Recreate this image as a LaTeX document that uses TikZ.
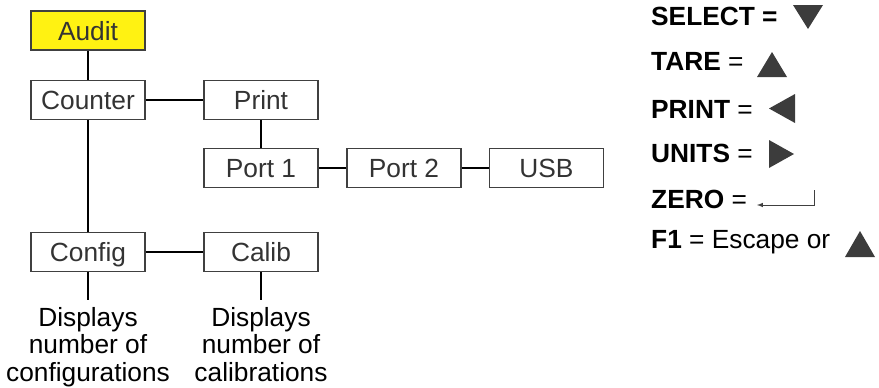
\documentclass[tikz,border=0pt]{standalone}
\usepackage{fontspec}
\setmainfont{Liberation Sans}
\definecolor{boxline}{HTML}{404040}
\definecolor{boxtext}{HTML}{333333}
\definecolor{auditfill}{HTML}{FFF212}
\definecolor{keyfill}{HTML}{3C3C3C}
\begin{document}
\begin{tikzpicture}[x=1pt,y=-1pt,
    menu/.style={draw=boxline,line width=1.3pt,fill=white,text=boxtext,
      minimum width=114pt,minimum height=39pt,inner sep=0pt,
      text height=19pt,text depth=0pt,font=\fontsize{26.3}{27.5}\selectfont},
    link/.style={line width=2pt},
    note/.style={align=center,anchor=north,inner sep=0pt,
      font=\fontsize{26.3}{27.5}\selectfont},
    keytext/.style={anchor=base west,inner sep=0pt,
      font=\fontsize{26.3}{27.5}\selectfont},
    keytri/.style={fill=keyfill,draw=none}]
  \useasboundingbox (0,0) rectangle (879,388);
  % menu tree
  \node[menu,fill=auditfill] (audit) at (88,30.5) {Audit};
  \node[menu] (counter) at (88,100) {Counter};
  \node[menu] (print) at (261,100) {Print};
  \node[menu] (port1) at (261,168) {Port 1};
  \node[menu] (port2) at (404,168) {Port 2};
  \node[menu] (usb) at (546.5,168) {USB};
  \node[menu] (config) at (88,252) {Config};
  \node[menu] (calib) at (261,252) {Calib};
  \coordinate (configend) at (88,300);
  \coordinate (calibend) at (261,300);
  \node[note] (confignote) at (88,307) {Displays\\number of\\configurations};
  \node[note] (calibnote) at (261,307) {Displays\\number of\\calibrations};
  \draw[link] (audit) -- (counter);
  \draw[link] (counter) -- (print);
  \draw[link] (print) -- (port1);
  \draw[link] (port1) -- (port2);
  \draw[link] (port2) -- (usb);
  \draw[link] (counter) -- (config);
  \draw[link] (config) -- (calib);
  \draw[link] (config) -- (configend);
  \draw[link] (calib) -- (calibend);
  % key legend
  \node[keytext] (select) at (651,25) {\textbf{SELECT =}};
  \node[keytext] (tare) at (651,70) {\textbf{TARE} =};
  \node[keytext] (printkey) at (651,118) {\textbf{PRINT} =};
  \node[keytext] (units) at (651,162) {\textbf{UNITS} =};
  \node[keytext] (zero) at (651,208) {\textbf{ZERO} =};
  \node[keytext] (fone) at (651,248) {\textbf{F1} = Escape or};
  \fill[keytri] (793,5) -- (823,5) -- (808,29) -- cycle;
  \fill[keytri] (757,77) -- (787,77) -- (772,52) -- cycle;
  \fill[keytri] (795,94) -- (795,123) -- (769,108.5) -- cycle;
  \fill[keytri] (769,140) -- (769,168) -- (794,154) -- cycle;
  \fill[keytri] (845,257) -- (875,257) -- (860,231) -- cycle;
  \draw[boxline,line width=1pt,-latex] (814,190) -- (814,205) -- (757,205);
\end{tikzpicture}
\end{document}
